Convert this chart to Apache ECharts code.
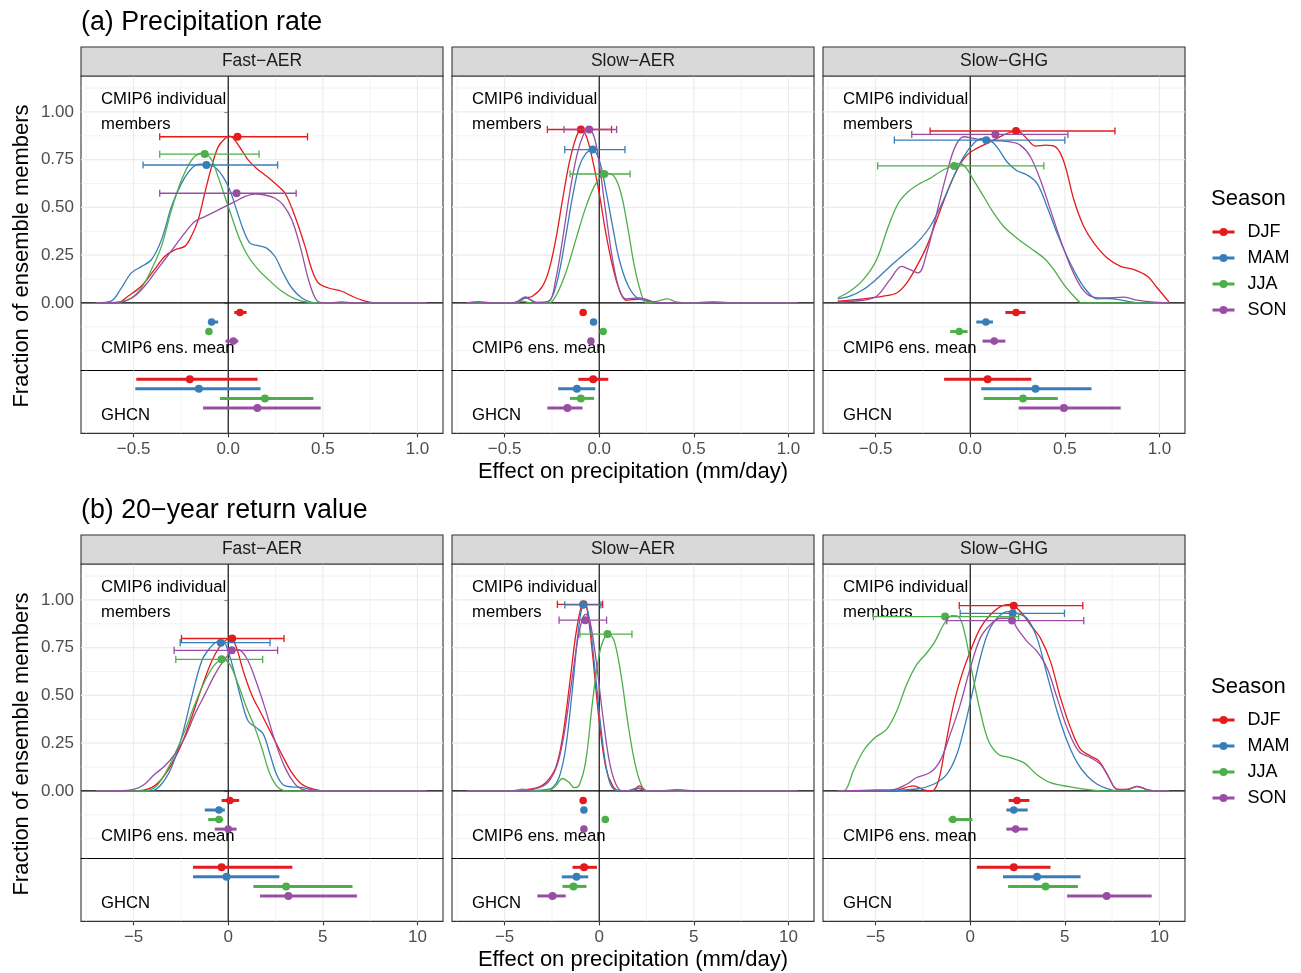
<!DOCTYPE html>
<html lang="en">
<head>
<meta charset="UTF-8">
<title>Precipitation effects</title>
<script src="https://cdn.jsdelivr.net/npm/echarts@6.0.0/dist/echarts.min.js"></script>
<style>
  html, body { margin: 0; padding: 0; background: #fff; }
  #main { width: 1301px; height: 973px; }
</style>
</head>
<body>
<div id="main"></div>
<script>
var seasons = ['DJF', 'MAM', 'JJA', 'SON'];
var seasonColors = ['#E41A1C', '#377EB8', '#4DAF4A', '#984EA3'];
var panelNames = ['Fast−AER', 'Slow−AER', 'Slow−GHG'];
var rowTitles = ['(a) Precipitation rate', '(b) 20−year return value'];

// ---- (a) precipitation rate : density of individual members [x, fraction] ----
var prFastDJF = [[-0.7,0],[-0.58,0.003],[-0.53,0.035],[-0.46,0.087],[-0.39,0.174],[-0.336,0.243],[-0.283,0.278],[-0.23,0.296],[-0.194,0.35],[-0.159,0.435],[-0.124,0.574],[-0.088,0.713],[-0.053,0.817],[-0.018,0.86],[0.009,0.873],[0.035,0.852],[0.071,0.8],[0.106,0.748],[0.15,0.704],[0.194,0.67],[0.247,0.626],[0.3,0.574],[0.353,0.452],[0.406,0.296],[0.442,0.174],[0.477,0.104],[0.53,0.078],[0.6,0.061],[0.654,0.035],[0.724,0.009],[0.777,0],[1.05,0]];
var prFastMAM = [[-0.7,0],[-0.62,0.009],[-0.565,0.078],[-0.512,0.157],[-0.459,0.19],[-0.406,0.226],[-0.353,0.33],[-0.3,0.504],[-0.247,0.626],[-0.194,0.704],[-0.15,0.727],[-0.115,0.727],[-0.07,0.71],[-0.027,0.66],[0.009,0.59],[0.044,0.487],[0.08,0.383],[0.115,0.313],[0.159,0.3],[0.203,0.287],[0.247,0.243],[0.29,0.157],[0.336,0.078],[0.389,0.026],[0.442,0.003],[0.5,0],[1.05,0]];
var prFastJJA = [[-0.7,0],[-0.583,0.003],[-0.512,0.026],[-0.459,0.078],[-0.406,0.174],[-0.353,0.296],[-0.3,0.487],[-0.247,0.643],[-0.194,0.748],[-0.15,0.783],[-0.124,0.786],[-0.088,0.748],[-0.053,0.66],[-0.018,0.557],[0.018,0.452],[0.062,0.33],[0.106,0.243],[0.159,0.174],[0.212,0.122],[0.283,0.061],[0.353,0.021],[0.424,0.003],[0.48,0],[1.05,0]];
var prFastSON = [[-0.7,0],[-0.565,0.005],[-0.495,0.035],[-0.442,0.087],[-0.389,0.157],[-0.336,0.226],[-0.283,0.296],[-0.23,0.365],[-0.177,0.426],[-0.124,0.452],[-0.07,0.478],[-0.018,0.504],[0.035,0.53],[0.088,0.557],[0.141,0.57],[0.194,0.565],[0.247,0.548],[0.29,0.513],[0.336,0.435],[0.38,0.296],[0.424,0.122],[0.459,0.026],[0.486,0.003],[0.54,0],[0.6,0.005],[0.66,0],[1.05,0]];

var prSlowDJF = [[-0.7,0],[-0.46,0],[-0.389,0.026],[-0.353,0.035],[-0.3,0.087],[-0.265,0.174],[-0.23,0.33],[-0.194,0.539],[-0.159,0.73],[-0.124,0.861],[-0.097,0.908],[-0.07,0.878],[-0.035,0.748],[0,0.574],[0.035,0.365],[0.071,0.191],[0.106,0.07],[0.141,0.014],[0.177,0.017],[0.23,0.021],[0.283,0.003],[0.33,0],[1.05,0]];
var prSlowMAM = [[-0.7,0],[-0.45,0],[-0.389,0.026],[-0.33,0.003],[-0.283,0.003],[-0.247,0.035],[-0.212,0.157],[-0.177,0.348],[-0.141,0.557],[-0.106,0.713],[-0.07,0.783],[-0.035,0.8],[0,0.748],[0.035,0.591],[0.071,0.4],[0.106,0.226],[0.15,0.096],[0.194,0.031],[0.247,0.01],[0.3,0],[1.05,0]];
var prSlowJJA = [[-0.7,0],[-0.45,0],[-0.406,0.009],[-0.36,0],[-0.265,0],[-0.23,0.035],[-0.177,0.157],[-0.124,0.33],[-0.07,0.504],[-0.027,0.609],[0.009,0.661],[0.044,0.678],[0.08,0.661],[0.115,0.574],[0.15,0.4],[0.186,0.191],[0.221,0.052],[0.247,0],[0.3,0.008],[0.362,0.021],[0.406,0.005],[0.5,0],[0.6,0.007],[0.7,0],[1.05,0]];
var prSlowSON = [[-0.7,0],[-0.636,0.007],[-0.57,0],[-0.45,0],[-0.389,0.031],[-0.336,0.002],[-0.265,0.009],[-0.23,0.122],[-0.194,0.33],[-0.159,0.557],[-0.124,0.748],[-0.088,0.87],[-0.057,0.913],[-0.027,0.87],[0,0.73],[0.035,0.47],[0.071,0.226],[0.106,0.07],[0.141,0.021],[0.212,0.026],[0.283,0.007],[0.33,0],[1.05,0]];

var prGhgDJF = [[-0.7,0.009],[-0.565,0.021],[-0.459,0.035],[-0.389,0.052],[-0.336,0.104],[-0.283,0.191],[-0.23,0.296],[-0.177,0.435],[-0.124,0.574],[-0.07,0.696],[-0.018,0.774],[0.035,0.809],[0.088,0.835],[0.141,0.861],[0.194,0.887],[0.247,0.9],[0.29,0.87],[0.345,0.821],[0.398,0.826],[0.451,0.817],[0.495,0.739],[0.548,0.539],[0.6,0.4],[0.654,0.313],[0.724,0.235],[0.795,0.191],[0.866,0.174],[0.936,0.139],[0.989,0.078],[1.05,0.005]];
var prGhgMAM = [[-0.7,0.021],[-0.636,0.035],[-0.565,0.07],[-0.495,0.125],[-0.424,0.191],[-0.353,0.252],[-0.283,0.313],[-0.212,0.4],[-0.141,0.539],[-0.088,0.661],[-0.035,0.765],[0.018,0.835],[0.062,0.861],[0.097,0.856],[0.141,0.817],[0.194,0.739],[0.247,0.692],[0.3,0.67],[0.353,0.626],[0.406,0.504],[0.459,0.365],[0.512,0.243],[0.565,0.139],[0.618,0.061],[0.671,0.021],[0.724,0.023],[0.777,0.019],[0.848,0.005],[0.9,0],[1.05,0]];
var prGhgJJA = [[-0.7,0.026],[-0.636,0.061],[-0.565,0.122],[-0.495,0.226],[-0.433,0.4],[-0.38,0.522],[-0.327,0.583],[-0.265,0.626],[-0.212,0.652],[-0.159,0.687],[-0.106,0.713],[-0.062,0.73],[-0.027,0.713],[0.018,0.643],[0.071,0.557],[0.124,0.47],[0.177,0.4],[0.247,0.339],[0.318,0.287],[0.389,0.235],[0.442,0.174],[0.495,0.096],[0.548,0.035],[0.592,0],[1.05,0]];
var prGhgSON = [[-0.7,0.005],[-0.565,0.014],[-0.495,0.035],[-0.424,0.122],[-0.362,0.191],[-0.318,0.174],[-0.274,0.157],[-0.23,0.261],[-0.177,0.47],[-0.124,0.678],[-0.08,0.817],[-0.035,0.87],[0.018,0.861],[0.071,0.852],[0.141,0.849],[0.212,0.843],[0.265,0.826],[0.318,0.765],[0.371,0.643],[0.424,0.487],[0.477,0.33],[0.53,0.191],[0.583,0.087],[0.636,0.035],[0.707,0.026],[0.813,0.03],[0.883,0.014],[0.954,0.005],[1.05,0]];

// ---- (b) 20-year return value : density of individual members ----
var rvFastDJF = [[-7,0],[-4.95,0],[-4.06,0.017],[-3.53,0.061],[-3.0,0.139],[-2.47,0.243],[-1.94,0.383],[-1.41,0.539],[-0.88,0.678],[-0.44,0.757],[-0.09,0.791],[0.14,0.8],[0.44,0.748],[0.8,0.626],[1.24,0.504],[1.77,0.4],[2.3,0.296],[2.83,0.191],[3.36,0.096],[3.89,0.035],[4.42,0.012],[5.12,0],[10.5,0]];
var rvFastMAM = [[-7,0],[-4.06,0],[-3.53,0.035],[-3.0,0.122],[-2.47,0.278],[-1.94,0.487],[-1.41,0.678],[-0.97,0.748],[-0.53,0.783],[-0.27,0.783],[0,0.73],[0.35,0.609],[0.71,0.47],[1.06,0.365],[1.5,0.33],[1.86,0.296],[2.21,0.191],[2.56,0.085],[2.92,0.031],[3.36,0.021],[3.89,0.019],[4.42,0.005],[5,0],[10.5,0]];
var rvFastJJA = [[-7,0],[-4.59,0],[-3.89,0.017],[-3.36,0.087],[-2.83,0.191],[-2.3,0.313],[-1.77,0.452],[-1.24,0.574],[-0.71,0.661],[-0.27,0.687],[0.09,0.661],[0.53,0.557],[0.97,0.435],[1.41,0.33],[1.77,0.226],[2.21,0.087],[2.65,0.017],[3.18,0],[10.5,0]];
var rvFastSON = [[-7,0],[-5.83,0],[-4.95,0.009],[-4.42,0.035],[-3.89,0.087],[-3.36,0.13],[-2.83,0.191],[-2.3,0.278],[-1.77,0.4],[-1.24,0.504],[-0.71,0.609],[-0.27,0.678],[0.18,0.73],[0.53,0.739],[0.97,0.696],[1.41,0.591],[1.94,0.435],[2.47,0.261],[3.0,0.122],[3.53,0.035],[3.89,0.009],[4.4,0],[10.5,0]];

var rvSlowDJF = [[-7,0],[-4.95,0],[-4.06,0.005],[-3.36,0.014],[-2.83,0.043],[-2.3,0.122],[-1.94,0.278],[-1.59,0.539],[-1.24,0.817],[-0.97,0.957],[-0.8,0.983],[-0.62,0.939],[-0.35,0.713],[0,0.365],[0.35,0.122],[0.71,0.026],[1.06,0],[1.77,0.002],[2.12,0.026],[2.47,0.002],[3.2,0],[4.06,0.005],[4.8,0],[10.5,0]];
var rvSlowMAM = [[-7,0],[-3.36,0.003],[-2.83,0.007],[-2.47,0.017],[-2.12,0.07],[-1.77,0.226],[-1.41,0.539],[-1.15,0.8],[-0.92,0.957],[-0.74,0.977],[-0.53,0.904],[-0.27,0.678],[0.09,0.33],[0.44,0.087],[0.8,0.007],[1.4,0],[2.03,0.014],[2.47,0.002],[3,0],[10.5,0]];
var rvSlowJJA = [[-7,0],[-4.6,0],[-4.06,0.009],[-3.36,0],[-2.65,0.003],[-2.3,0.025],[-1.94,0.065],[-1.6,0.045],[-1.33,0.017],[-1.06,0.03],[-0.71,0.157],[-0.35,0.47],[0,0.713],[0.27,0.8],[0.53,0.817],[0.8,0.783],[1.15,0.609],[1.5,0.365],[1.86,0.157],[2.21,0.035],[2.56,0],[10.5,0]];
var rvSlowSON = [[-7,0],[-4.06,0],[-3.18,0.017],[-2.65,0.052],[-2.21,0.139],[-1.86,0.294],[-1.5,0.539],[-1.15,0.783],[-0.88,0.904],[-0.71,0.925],[-0.49,0.887],[-0.18,0.696],[0.18,0.4],[0.53,0.157],[0.88,0.035],[1.24,0],[1.7,0],[2.12,0.014],[2.5,0],[3.5,0],[4.24,0.005],[5,0],[10.5,0]];

var rvGhgDJF = [[-7,0],[-4.95,0.002],[-4.06,0],[-3.0,0.026],[-2.47,0.006],[-2.03,0],[-1.68,0.052],[-1.33,0.226],[-0.88,0.452],[-0.44,0.609],[0,0.73],[0.53,0.852],[1.06,0.922],[1.59,0.965],[2.12,0.977],[2.65,0.939],[3.18,0.87],[3.71,0.8],[4.24,0.678],[4.77,0.487],[5.3,0.33],[5.83,0.217],[6.36,0.183],[6.8,0.157],[7.24,0.087],[7.77,0.009],[8.3,0.008],[8.83,0.023],[9.36,0.006],[9.89,0],[10.5,0]];
var rvGhgMAM = [[-7,0],[-4.95,0],[-2.83,0.01],[-1.94,0.035],[-1.24,0.087],[-0.71,0.191],[-0.27,0.348],[0.09,0.504],[0.53,0.696],[0.97,0.835],[1.5,0.913],[2.03,0.939],[2.47,0.93],[3.0,0.904],[3.53,0.8],[4.06,0.609],[4.59,0.417],[5.12,0.261],[5.65,0.148],[6.18,0.078],[6.71,0.035],[7.24,0.012],[7.77,0],[10.5,0]];
var rvGhgJJA = [[-7,0],[-6.63,0.003],[-6.18,0.104],[-5.65,0.209],[-5.04,0.278],[-4.42,0.322],[-3.89,0.417],[-3.36,0.557],[-2.83,0.661],[-2.3,0.722],[-1.86,0.783],[-1.41,0.87],[-0.97,0.918],[-0.62,0.913],[-0.27,0.817],[0.09,0.626],[0.53,0.417],[0.97,0.261],[1.5,0.191],[2.12,0.174],[2.83,0.148],[3.53,0.085],[4.24,0.043],[5.3,0.021],[6.36,0.005],[7,0],[10.5,0]];
var rvGhgSON = [[-7,0],[-4.95,0.005],[-4.06,0.007],[-3.36,0.035],[-2.83,0.07],[-2.12,0.096],[-1.59,0.157],[-1.06,0.296],[-0.53,0.452],[0,0.643],[0.53,0.8],[1.06,0.87],[1.59,0.904],[2.12,0.904],[2.47,0.852],[3.0,0.783],[3.53,0.73],[4.06,0.643],[4.59,0.487],[5.12,0.33],[5.74,0.207],[6.36,0.174],[6.89,0.139],[7.33,0.07],[7.77,0.007],[8.3,0.008],[8.83,0.024],[9.36,0.006],[9.89,0],[10.5,0]];

// ---- member summary per season (DJF, MAM, JJA, SON): [mean, low, high, peak fraction] ----
var prFastMembers = [[0.049,-0.362,0.419,0.87],[-0.115,-0.45,0.261,0.722],[-0.124,-0.362,0.163,0.779],[0.044,-0.362,0.359,0.574]];
var prSlowMembers = [[-0.097,-0.274,0.065,0.908],[-0.035,-0.182,0.136,0.803],[0.027,-0.154,0.163,0.675],[-0.053,-0.186,0.092,0.908]];
var prGhgMembers = [[0.242,-0.212,0.765,0.9],[0.085,-0.401,0.5,0.852],[-0.085,-0.489,0.389,0.717],[0.133,-0.309,0.516,0.882]];
var rvFastMembers = [[0.21,-2.47,2.95,0.798],[-0.39,-2.54,2.21,0.776],[-0.35,-2.77,1.82,0.689],[0.19,-2.86,2.61,0.736]];
var rvSlowMembers = [[-0.83,-2.21,0.18,0.977],[-0.85,-1.82,0.09,0.974],[0.44,-1.02,1.73,0.821],[-0.74,-2.12,0.39,0.894]];
var rvGhgMembers = [[2.3,-0.58,5.95,0.97],[2.24,-0.53,4.98,0.93],[-1.33,-5.12,2.56,0.913],[2.21,-1.24,6.0,0.892]];

// ---- CMIP6 ensemble mean: [mean, low, high] ----
var prFastEns = [[0.062,0.032,0.097],[-0.088,-0.106,-0.053],[-0.102,-0.11,-0.095],[0.027,-0.014,0.053]];
var prSlowEns = [[-0.085,-0.09,-0.08],[-0.03,-0.035,-0.025],[0.021,0.016,0.026],[-0.044,-0.049,-0.039]];
var prGhgEns = [[0.242,0.186,0.292],[0.083,0.032,0.12],[-0.058,-0.106,-0.014],[0.127,0.065,0.186]];
var rvFastEns = [[0.09,-0.35,0.58],[-0.49,-1.24,-0.18],[-0.49,-1.06,-0.27],[0.0,-0.71,0.44]];
var rvSlowEns = [[-0.85,-0.9,-0.8],[-0.81,-0.86,-0.76],[0.32,0.15,0.5],[-0.81,-0.86,-0.76]];
var rvGhgEns = [[2.47,2.03,3.13],[2.3,1.91,3.04],[-0.92,-1.15,0.12],[2.4,1.91,3.04]];

// ---- GHCN observations: [mean, low, high] ----
var prFastGhcn = [[-0.203,-0.486,0.155],[-0.155,-0.491,0.171],[0.194,-0.044,0.45],[0.154,-0.133,0.489]];
var prSlowGhcn = [[-0.032,-0.11,0.048],[-0.118,-0.217,-0.021],[-0.097,-0.155,-0.027],[-0.168,-0.274,-0.088]];
var prGhgGhcn = [[0.092,-0.138,0.323],[0.345,0.058,0.641],[0.279,0.071,0.463],[0.495,0.256,0.795]];
var rvFastGhcn = [[-0.35,-1.86,3.39],[-0.09,-1.86,2.7],[3.06,1.33,6.57],[3.18,1.68,6.8]];
var rvSlowGhcn = [[-0.8,-1.41,-0.12],[-1.2,-1.98,-0.58],[-1.36,-1.94,-0.67],[-2.47,-3.27,-1.77]];
var rvGhgGhcn = [[2.3,0.35,4.24],[3.53,1.73,5.83],[3.98,2.0,5.69],[7.21,5.12,9.59]];

// tick values
var xTicks = [[-0.5, 0, 0.5, 1.0], [-5, 0, 5, 10]];
var xMinor = [[-0.75, -0.25, 0.25, 0.75], [-7.5, -2.5, 2.5, 7.5]];
var xDigits = [1, 0];
var yTicks = [0, 0.25, 0.5, 0.75, 1.0];
var yMinor = [-0.25, -0.125, 0.125, 0.375, 0.625, 0.875, 1.125];

var panels = [
  { row: 0, col: 0, dens: [prFastDJF, prFastMAM, prFastJJA, prFastSON], members: prFastMembers, ens: prFastEns, ghcn: prFastGhcn },
  { row: 0, col: 1, dens: [prSlowDJF, prSlowMAM, prSlowJJA, prSlowSON], members: prSlowMembers, ens: prSlowEns, ghcn: prSlowGhcn },
  { row: 0, col: 2, dens: [prGhgDJF, prGhgMAM, prGhgJJA, prGhgSON], members: prGhgMembers, ens: prGhgEns, ghcn: prGhgGhcn },
  { row: 1, col: 0, dens: [rvFastDJF, rvFastMAM, rvFastJJA, rvFastSON], members: rvFastMembers, ens: rvFastEns, ghcn: rvFastGhcn },
  { row: 1, col: 1, dens: [rvSlowDJF, rvSlowMAM, rvSlowJJA, rvSlowSON], members: rvSlowMembers, ens: rvSlowEns, ghcn: rvSlowGhcn },
  { row: 1, col: 2, dens: [rvGhgDJF, rvGhgMAM, rvGhgJJA, rvGhgSON], members: rvGhgMembers, ens: rvGhgEns, ghcn: rvGhgGhcn }
];

// layout
var FONT = '"Liberation Sans", Arial, Helvetica, sans-serif';
var colLeft = [81, 452, 823], panelW = 362;
var rowTop = [76, 564], stripH = 29;
var yMax = 1.188, ySep = -0.354, yMin = -0.683, pxPerUnit = 191;
var mainH = (yMax - ySep) * pxPerUnit;
var ghcnH = (ySep - yMin) * pxPerUnit;
var xRange = [[-0.778, 1.135], [-7.78, 11.35]];
var ensRowY = [-0.05, -0.10, -0.15, -0.20];
var ghcnRowY = [-0.40, -0.45, -0.50, -0.55];

function fmtX(digits) {
  return function (v) { return (v < 0 ? '−' : '') + Math.abs(v).toFixed(digits); };
}

function renderGridLine(params, api) {
  var v = api.value(0), vertical = api.value(1), kind = api.value(2);
  var cs = params.coordSys;
  var shape;
  if (vertical) {
    var px = api.coord([v, ySep])[0];
    shape = { x1: px, y1: cs.y, x2: px, y2: cs.y + cs.height };
  } else {
    var py = api.coord([0, v])[1];
    shape = { x1: cs.x, y1: py, x2: cs.x + cs.width, y2: py };
  }
  var style = kind === 2 ? { stroke: '#000', lineWidth: 1.1 }
    : kind === 1 ? { stroke: '#EBEBEB', lineWidth: 1.1 }
    : { stroke: '#EBEBEB', lineWidth: 0.6 };
  return { type: 'line', shape: shape, style: style };
}

function makeBarRenderer(lineWidth, capHalf, radius) {
  return function (params, api) {
    var mean = api.value(0), lo = api.value(1), hi = api.value(2), y = api.value(3);
    var color = seasonColors[api.value(4)];
    var a = api.coord([lo, y]), b = api.coord([hi, y]), m = api.coord([mean, y]);
    var children = [{ type: 'line', shape: { x1: a[0], y1: a[1], x2: b[0], y2: b[1] },
      style: { stroke: color, lineWidth: lineWidth, lineCap: 'butt' } }];
    if (capHalf > 0) {
      children.push({ type: 'line', shape: { x1: a[0], y1: a[1] - capHalf, x2: a[0], y2: a[1] + capHalf }, style: { stroke: color, lineWidth: lineWidth } });
      children.push({ type: 'line', shape: { x1: b[0], y1: b[1] - capHalf, x2: b[0], y2: b[1] + capHalf }, style: { stroke: color, lineWidth: lineWidth } });
    }
    children.push({ type: 'circle', shape: { cx: m[0], cy: m[1], r: radius }, style: { fill: color } });
    return { type: 'group', children: children };
  };
}

var grids = [], xAxes = [], yAxes = [], series = [], graphics = [], legends = [];

panels.forEach(function (p, i) {
  var left = colLeft[p.col], top = rowTop[p.row];
  var mi = 2 * i, gi = 2 * i + 1;
  var xr = xRange[p.row];

  grids.push({ left: left, top: top, width: panelW, height: mainH, show: true, borderColor: '#333333', borderWidth: 1.1, backgroundColor: 'transparent' });
  grids.push({ left: left, top: top + mainH, width: panelW, height: ghcnH, show: true, borderColor: '#333333', borderWidth: 1.1, backgroundColor: 'transparent' });

  xAxes.push({ gridIndex: mi, type: 'value', min: xr[0], max: xr[1], axisLine: { show: false }, axisTick: { show: false }, axisLabel: { show: false }, splitLine: { show: false } });
  xAxes.push({ gridIndex: gi, type: 'value', min: xr[0], max: xr[1], axisLine: { show: false },
    axisTick: { show: true, length: 4, customValues: xTicks[p.row], lineStyle: { color: '#333333', width: 1.1 } },
    axisLabel: { show: true, customValues: xTicks[p.row], formatter: fmtX(xDigits[p.row]), margin: 7, fontSize: 17, color: '#4D4D4D', fontFamily: FONT },
    splitLine: { show: false } });

  yAxes.push({ gridIndex: mi, type: 'value', min: ySep, max: yMax, axisLine: { show: false },
    axisTick: { show: p.col === 0, length: 4, customValues: yTicks, lineStyle: { color: '#333333', width: 1.1 } },
    axisLabel: { show: p.col === 0, customValues: yTicks, formatter: function (v) { return v.toFixed(2); }, margin: 7, fontSize: 17, color: '#4D4D4D', fontFamily: FONT },
    splitLine: { show: false } });
  yAxes.push({ gridIndex: gi, type: 'value', min: yMin, max: ySep, show: false, splitLine: { show: false } });

  // grid lines for the member / ensemble-mean area
  var mainLines = [];
  xMinor[p.row].forEach(function (v) { mainLines.push([v, 1, 0]); });
  yMinor.forEach(function (v) { mainLines.push([v, 0, 0]); });
  xTicks[p.row].forEach(function (v) { mainLines.push([v, 1, 1]); });
  yTicks.forEach(function (v) { mainLines.push([v, 0, 1]); });
  mainLines.push([0, 1, 2], [0, 0, 2], [ySep, 0, 2]);
  series.push({ type: 'custom', name: 'grid', xAxisIndex: mi, yAxisIndex: mi, renderItem: renderGridLine, data: mainLines, z: 1, silent: true });

  var ghcnLines = [];
  xMinor[p.row].forEach(function (v) { ghcnLines.push([v, 1, 0]); });
  xTicks[p.row].forEach(function (v) { ghcnLines.push([v, 1, 1]); });
  ghcnLines.push([0, 1, 2]);
  series.push({ type: 'custom', name: 'grid', xAxisIndex: gi, yAxisIndex: gi, renderItem: renderGridLine, data: ghcnLines, z: 1, silent: true });

  // densities
  p.dens.forEach(function (d, s) {
    series.push({ type: 'line', name: seasons[s], xAxisIndex: mi, yAxisIndex: mi, data: d,
      smooth: 0.35, symbol: 'circle', showSymbol: false, silent: true, z: 3,
      lineStyle: { color: seasonColors[s], width: 1.3 }, itemStyle: { color: seasonColors[s] } });
  });

  // members: mean and range, with caps, drawn at the peak height
  series.push({ type: 'custom', name: 'members', xAxisIndex: mi, yAxisIndex: mi, z: 4, silent: true,
    renderItem: makeBarRenderer(1.3, 3.6, 4),
    data: p.members.map(function (r, s) { return [r[0], r[1], r[2], r[3], s]; }) });
  // ensemble mean
  series.push({ type: 'custom', name: 'ens', xAxisIndex: mi, yAxisIndex: mi, z: 4, silent: true,
    renderItem: makeBarRenderer(3, 0, 3.8),
    data: p.ens.map(function (r, s) { return [r[0], r[1], r[2], ensRowY[s], s]; }) });
  // GHCN
  series.push({ type: 'custom', name: 'ghcn', xAxisIndex: gi, yAxisIndex: gi, z: 4, silent: true,
    renderItem: makeBarRenderer(3, 0, 4),
    data: p.ghcn.map(function (r, s) { return [r[0], r[1], r[2], ghcnRowY[s], s]; }) });

  // strip
  graphics.push({ type: 'rect', shape: { x: left, y: top - stripH, width: panelW, height: stripH },
    style: { fill: '#D9D9D9', stroke: '#333333', lineWidth: 1.1 }, z: 5 });
  graphics.push({ type: 'text', x: left + panelW / 2, y: top - stripH / 2, z: 6,
    style: { text: panelNames[p.col], fontSize: 17.5, fontFamily: FONT, fill: '#1A1A1A', align: 'center', verticalAlign: 'middle', textAlign: 'center', textVerticalAlign: 'middle' } });

  // in-panel labels
  [['CMIP6 individual', 23], ['members', 48], ['CMIP6 ens. mean', 272], ['GHCN', 339]].forEach(function (t) {
    graphics.push({ type: 'text', x: left + 20, y: top + t[1], z: 2,
      style: { text: t[0], fontSize: 16.7, fontFamily: FONT, fill: '#000', align: 'left', verticalAlign: 'middle', textAlign: 'left', textVerticalAlign: 'middle' } });
  });
});

[0, 1].forEach(function (r) {
  var top = rowTop[r];
  graphics.push({ type: 'text', x: 81, y: top - 53,
    style: { text: rowTitles[r], fontSize: 26.8, fontFamily: FONT, fill: '#000', align: 'left', verticalAlign: 'middle', textAlign: 'left', textVerticalAlign: 'middle' } });
  graphics.push({ type: 'text', x: 22, y: top + 180, rotation: Math.PI / 2,
    style: { text: 'Fraction of ensemble members', fontSize: 22, fontFamily: FONT, fill: '#000', align: 'center', verticalAlign: 'middle', textAlign: 'center', textVerticalAlign: 'middle' } });
  graphics.push({ type: 'text', x: 633, y: top + 396,
    style: { text: 'Effect on precipitation (mm/day)', fontSize: 22, fontFamily: FONT, fill: '#000', align: 'center', verticalAlign: 'middle', textAlign: 'center', textVerticalAlign: 'middle' } });
  graphics.push({ type: 'text', x: 1211, y: top + 123,
    style: { text: 'Season', fontSize: 22, fontFamily: FONT, fill: '#000', align: 'left', verticalAlign: 'middle', textAlign: 'left', textVerticalAlign: 'middle' } });
  legends.push({ orient: 'vertical', left: 1211, top: top + 147, padding: 0, itemWidth: 22, itemHeight: 10, itemGap: 8,
    data: seasons, selectedMode: false, lineStyle: { width: 3 },
    textStyle: { fontSize: 18, color: '#000', fontFamily: FONT, lineHeight: 18, padding: [0, 0, 0, 8] } });
});

var myChart = echarts.init(document.getElementById('main'), null, { renderer: 'canvas' });
myChart.setOption({
  animation: false,
  backgroundColor: '#ffffff',
  grid: grids,
  xAxis: xAxes,
  yAxis: yAxes,
  legend: legends,
  graphic: graphics,
  series: series
});
</script>
</body>
</html>
